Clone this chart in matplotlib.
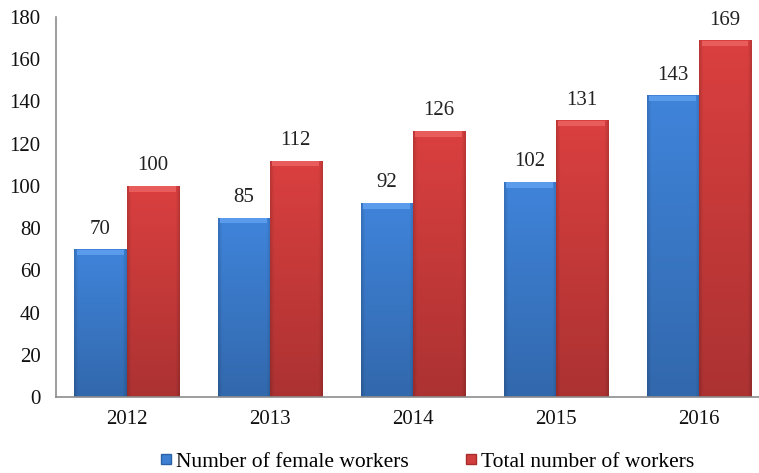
import matplotlib.pyplot as plt
import numpy as np
from matplotlib.colors import to_rgb
from matplotlib.lines import Line2D

years = ['2012', '2013', '2014', '2015', '2016']
female_workers = [70, 85, 92, 102, 143]
total_workers = [100, 112, 126, 131, 169]

plt.rcParams['font.family'] = ['Liberation Serif', 'DejaVu Serif']
plt.rcParams['font.size'] = 15

BLUE = '#3d7fd2'
RED = '#d23d3d'


def shade(color, ny=200, nx=60):
    """RGB image: darker toward the bottom and along the side edges."""
    base = np.array(to_rgb(color))
    v = np.linspace(0.82, 1.04, ny).reshape(-1, 1)
    u = np.linspace(-1, 1, nx)
    h = 1 - 0.14 * np.clip((np.abs(u) - 0.85) / 0.15, 0, 1)
    f = v * h.reshape(1, -1)
    return np.clip(base * f[..., None], 0, 1)


fig = plt.figure(figsize=(7.59, 4.73), dpi=100)
ax = fig.add_axes([56 / 759, 76 / 473, 1 - 56 / 759, 380 / 473])

x = np.arange(len(years))
w = 0.364
bars_f = ax.bar(x - w / 2, female_workers, w, color=BLUE, linewidth=0)
bars_t = ax.bar(x + w / 2, total_workers, w, color=RED, linewidth=0)

for bars, col, top in [(bars_f, BLUE, '#5a9ceb'), (bars_t, RED, '#e85c5c')]:
    img = shade(col)
    for b in bars:
        x0, h = b.get_x(), b.get_height()
        im = ax.imshow(img, aspect='auto', origin='lower',
                       extent=(x0, x0 + w, 0, h), zorder=2)
        im.set_clip_path(b)
        ax.bar(x0 + w / 2, 2.6, w * 0.9, bottom=h - 2.8, color=top,
               linewidth=0, zorder=3)
        ax.text(x0 + w / 2, h + 5, f'{h:.0f}', ha='center', va='bottom',
                fontsize=15, color='#222222', zorder=4)

ax.set_xlim(-0.493, 4.42)
ax.set_ylim(0, 180)
ax.set_yticks(range(0, 181, 20))
ax.set_xticks(x)
ax.set_xticklabels(years)
ax.tick_params(axis='both', length=0, labelsize=15, colors='#111111')
ax.tick_params(axis='y', pad=11)
ax.tick_params(axis='x', pad=9)
for side in ['top', 'right']:
    ax.spines[side].set_visible(False)
for side in ['left', 'bottom']:
    ax.spines[side].set_color('#8c8c8c')
    ax.spines[side].set_linewidth(1.2)

handles = [
    Line2D([], [], marker='s', linestyle='none', markersize=7,
           markerfacecolor=BLUE, markeredgecolor='#2d62a6'),
    Line2D([], [], marker='s', linestyle='none', markersize=7,
           markerfacecolor=RED, markeredgecolor='#a82e2e'),
]
fig.legend(handles, ['Number of female workers', 'Total number of workers'],
           loc='center', bbox_to_anchor=(427 / 759, 1 - 462 / 473), ncol=2,
           frameon=False, prop={'family': 'Liberation Serif', 'size': 15.5},
           handlelength=0.6, handletextpad=0.15, columnspacing=2.6)

fig.savefig('out.png', dpi=100)
